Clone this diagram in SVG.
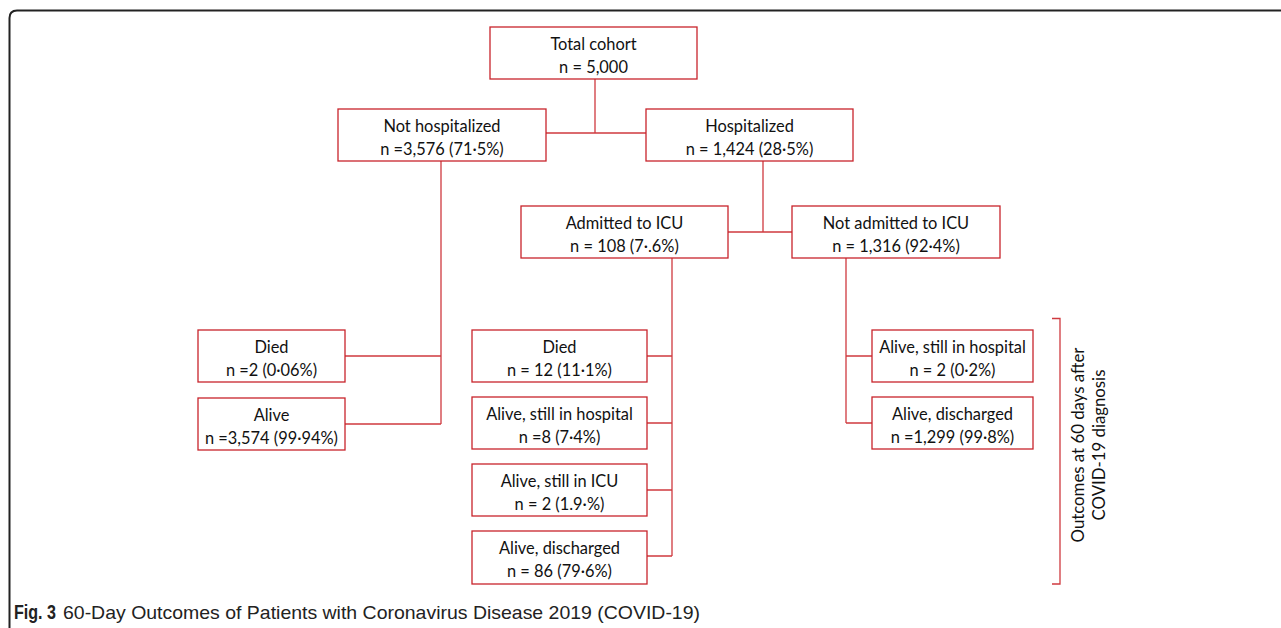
<svg xmlns="http://www.w3.org/2000/svg" width="1281" height="628" viewBox="0 0 1281 628">
<style>
.box rect{fill:#fff;stroke:#c8242b;stroke-width:1.3}
.box text{font-family:Lato,"Open Sans",sans-serif;font-size:16.4px;fill:#111;text-anchor:middle}
.conn path{fill:none;stroke:#cf3a3f;stroke-width:1.3}
.side{font-family:Lato,"Open Sans",sans-serif;font-size:16.8px;fill:#111;text-anchor:middle}
.cap{font-family:"Liberation Sans",sans-serif;fill:#222}
</style>
<rect width="1281" height="628" fill="#fff"/>
<path d="M9.5 640 V18 Q9.5 10.5 17 10.5 H1290" fill="none" stroke="#222" stroke-width="2"/>
<g class="conn">
<path d="M595 79 V133 M546 133 H646"/>
<path d="M763 161 V232 M728 232 H792"/>
<path d="M441 161 V424 M345 356 H441 M345 424 H441"/>
<path d="M672 258 V556 M647 356 H672 M647 423 H672 M647 490 H672 M647 556 H672"/>
<path d="M846 258 V423 M846 356 H872 M846 423 H872"/>
<path d="M1052 318.5 H1060 V584 H1052"/>
</g>
<g id="total" class="box"><rect x="490" y="27" width="207" height="52"/><text x="593.5" y="50">Total cohort</text><text x="593.5" y="73">n = 5,000</text></g>
<g id="nothosp" class="box"><rect x="338" y="109" width="208" height="52"/><text x="442" y="132">Not hospitalized</text><text x="442" y="155">n =3,576 (71·5%)</text></g>
<g id="hosp" class="box"><rect x="646" y="109" width="207" height="52"/><text x="749.5" y="132">Hospitalized</text><text x="749.5" y="155">n = 1,424 (28·5%)</text></g>
<g id="icu" class="box"><rect x="521" y="206" width="207" height="52"/><text x="624.5" y="229">Admitted to ICU</text><text x="624.5" y="252">n = 108 (7·.6%)</text></g>
<g id="noicu" class="box"><rect x="792" y="206" width="208" height="52"/><text x="896" y="229">Not admitted to ICU</text><text x="896" y="252">n = 1,316 (92·4%)</text></g>
<g id="nh-died" class="box"><rect x="198" y="330" width="147" height="52"/><text x="271.5" y="353">Died</text><text x="271.5" y="376">n =2 (0·06%)</text></g>
<g id="nh-alive" class="box"><rect x="198" y="398" width="147" height="52"/><text x="271.5" y="421">Alive</text><text x="271.5" y="444">n =3,574 (99·94%)</text></g>
<g id="icu-died" class="box"><rect x="472" y="330" width="175" height="52"/><text x="559.5" y="353">Died</text><text x="559.5" y="376">n = 12 (11·1%)</text></g>
<g id="icu-hosp" class="box"><rect x="472" y="397" width="175" height="52"/><text x="559.5" y="420">Alive, still in hospital</text><text x="559.5" y="443">n =8 (7·4%)</text></g>
<g id="icu-icu" class="box"><rect x="472" y="464" width="175" height="52"/><text x="559.5" y="487">Alive, still in ICU</text><text x="559.5" y="510">n = 2 (1.9·%)</text></g>
<g id="icu-dis" class="box"><rect x="472" y="531" width="175" height="53"/><text x="559.5" y="554">Alive, discharged</text><text x="559.5" y="577">n = 86 (79·6%)</text></g>
<g id="noicu-hosp" class="box"><rect x="872" y="330" width="161" height="52"/><text x="952.5" y="353">Alive, still in hospital</text><text x="952.5" y="376">n = 2 (0·2%)</text></g>
<g id="noicu-dis" class="box"><rect x="872" y="397" width="161" height="52"/><text x="952.5" y="420">Alive, discharged</text><text x="952.5" y="443">n =1,299 (99·8%)</text></g>
<g id="outcomes-label" transform="translate(1089 445) rotate(-90)">
<text class="side" x="0" y="-5">Outcomes at 60 days after</text>
<text class="side" x="0" y="16">COVID-19 diagnosis</text>
</g>
<text class="cap" x="14" y="619" font-weight="bold" font-size="21" textLength="42" lengthAdjust="spacingAndGlyphs">Fig. 3</text>
<text class="cap" x="63" y="619" font-size="19" textLength="637" lengthAdjust="spacingAndGlyphs">60-Day Outcomes of Patients with Coronavirus Disease 2019 (COVID-19)</text>
</svg>
